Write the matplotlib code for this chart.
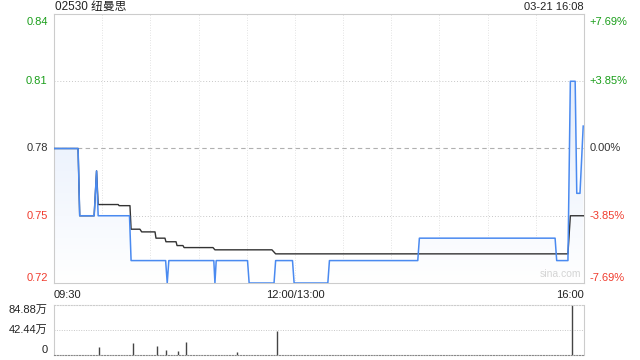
import numpy as np
import matplotlib
matplotlib.use("Agg")
import matplotlib.pyplot as plt
from matplotlib.patches import Polygon

plt.rcParams['font.family'] = ['Liberation Sans', 'Noto Sans CJK SC', 'DejaVu Sans']

title = "02530 纽曼思"
stamp = "03-21 16:08"
prev_close = 0.78

# minutes since 09:30 (lunch break removed, 330 = 16:00)
price_min = [0, 15, 16, 25, 26.5, 27.5, 47, 48, 69.5, 70.5, 71.5, 99.5, 100.2, 101,
             120.5, 121.5, 137, 138, 148.5, 149.5, 170.5, 171.5, 226.5, 227.5,
             312, 313, 320, 321.5, 324.5, 325.5, 327.5, 329.5]
price = [0.78, 0.78, 0.75, 0.75, 0.77, 0.75, 0.75, 0.73, 0.73, 0.72, 0.73, 0.73, 0.72, 0.73,
         0.73, 0.72, 0.72, 0.73, 0.73, 0.72, 0.72, 0.73, 0.73, 0.74,
         0.74, 0.73, 0.73, 0.81, 0.81, 0.76, 0.76, 0.79]

avg_min = [0, 15, 16, 25, 26.5, 27.5, 40, 40.5, 47.3, 48, 53.5, 54.6, 62.9, 63.5, 69.1,
           69.7, 76, 76.6, 80.3, 81, 99, 100.2, 135.7, 138, 320, 321.5, 330]
avg = [0.78, 0.78, 0.75, 0.75, 0.77, 0.755, 0.755, 0.7545, 0.7545, 0.744, 0.744,
       0.7428, 0.7428, 0.740, 0.740, 0.7384, 0.7384, 0.7367, 0.7367, 0.7358, 0.7358,
       0.7348, 0.7348, 0.733, 0.733, 0.75, 0.75]

vol_min = [28, 49, 64, 70, 77, 82, 114, 139, 322.5]
vol = [13.7, 20.3, 15.4, 8.3, 6.6, 21.5, 4.5, 40.1, 84.88]  # 万

price_ticks = [0.84, 0.81, 0.78, 0.75, 0.72]
pct_labels = ["+7.69%", "+3.85%", "0.00%", "-3.85%", "-7.69%"]
vol_ticks = [84.88, 42.44, 0]
vol_labels = ["84.88万", "42.44万", "0"]

green, red, dark = "#1a9e1a", "#f03c2e", "#333333"
tick_colors = [green, green, dark, red, red]

fig = plt.figure(figsize=(6.4, 3.6), dpi=100)
W, H = 640, 360
ax = fig.add_axes([54 / W, 1 - 283 / H, 530 / W, 269 / H])
axv = fig.add_axes([54 / W, 1 - 355 / H, 530 / W, 50 / H])

ymin, ymax = 0.72, 0.84
for a in (ax, axv):
    a.set_xlim(0, 330)
    a.set_xticks([])
    a.set_yticks([])
    for s in a.spines.values():
        s.set_color("#cccccc")
        s.set_linewidth(0.8)
ax.set_ylim(ymin, ymax)

# grid
for m in range(30, 330, 30):
    ax.axvline(m, color="#dadada", lw=0.6, ls=(0, (1, 2)), zorder=0)
for v in (0.81, 0.75):
    ax.axhline(v, color="#c8c8c8", lw=0.7, ls=(0, (1, 2)), zorder=0)
ax.axhline(prev_close, color="#b0b0b0", lw=0.8, ls=(0, (4, 3)), zorder=0)

# gradient fill under price line
verts = [(price_min[0], ymin)] + list(zip(price_min, price)) + [(price_min[-1], ymin)]
poly = Polygon(verts, closed=True, facecolor="none", edgecolor="none")
ax.add_patch(poly)
grad = np.linspace(0, 1, 256).reshape(-1, 1)
img = ax.imshow(grad, extent=[0, 330, ymin, ymax], origin="lower", aspect="auto",
                cmap=matplotlib.colors.LinearSegmentedColormap.from_list(
                    "g", ["#ffffff", "#dbe7fb"]), zorder=1)
img.set_clip_path(poly)

ax.plot(avg_min, avg, color="#333333", lw=1.0, zorder=3)
ax.plot(price_min, price, color="#4a8af0", lw=1.1, zorder=4)

# price labels
for v, lab, c in zip(price_ticks, pct_labels, tick_colors):
    if v == ymax:
        va, dy = "top", -2.5
    elif v == ymin:
        va, dy = "bottom", 0
    else:
        va, dy = "center", 0
    for x, t, ha in [(-0.012, f"{v:.2f}", "right"), (1.01, lab, "left")]:
        ax.annotate(t, (x, v), xycoords=ax.get_yaxis_transform(), xytext=(0, dy),
                    textcoords="offset points", ha=ha, va=va, fontsize=8, color=c)

fig.text(55 / W, 1 - 7 / H, title, ha="left", va="center", fontsize=8.5, color="#222222")
fig.text(584 / W, 1 - 7 / H, stamp, ha="right", va="center", fontsize=8, color="#222222")
ax.text(0.995, 0.015, "sina.com", transform=ax.transAxes, ha="right", va="bottom",
        fontsize=7.5, color="#d4d4d4")

# time labels
for m, lab, ha in [(0, "09:30", "left"), (150, "12:00/13:00", "center"), (330, "16:00", "right")]:
    ax.text(m, -0.025, lab, transform=ax.get_xaxis_transform(), ha=ha, va="top",
            fontsize=8, color="#222222")

# volume
axv.set_ylim(0, 84.88)
axv.axhline(42.44, color="#c8c8c8", lw=0.7, ls=(0, (1, 1.5)), zorder=0)
axv.spines["top"].set_linestyle((0, (1, 1.5)))
axv.spines["bottom"].set_linestyle((0, (1, 1.5)))
axv.spines["bottom"].set_color("#888888")
axv.vlines(vol_min, 0, vol, color="#444444", lw=1.0)
for v, lab in zip(vol_ticks, vol_labels):
    va = "top" if v == vol_ticks[0] else ("bottom" if v == 0 else "center")
    axv.text(-0.012, v, lab, transform=axv.get_yaxis_transform(), ha="right", va=va,
             fontsize=8, color="#222222")

fig.savefig("out.png", dpi=100)
